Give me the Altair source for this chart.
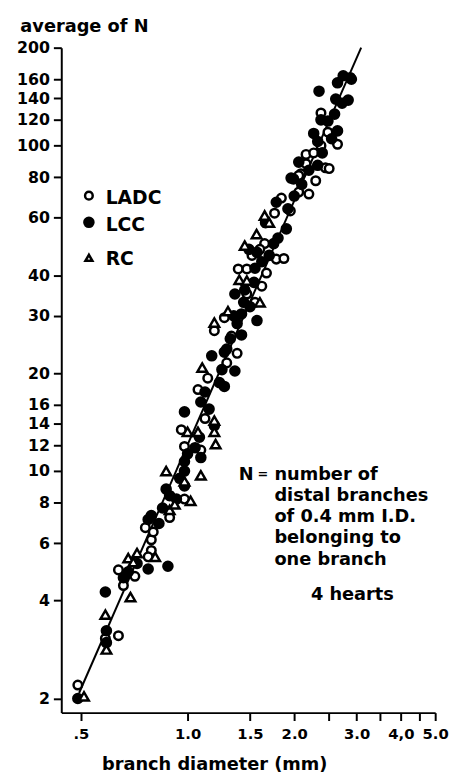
import altair as alt
import pandas as pd

# ---- data (branch diameter mm, average N) ----
ladc_x = [0.49, 0.586, 0.638, 0.638, 0.659, 0.71, 0.76, 0.79, 0.79, 0.774, 0.89, 0.98,
          0.98, 0.96, 1.09, 1.07, 1.14, 1.29, 1.38, 1.19, 1.27, 1.47, 1.39, 1.47, 1.67,
          1.62, 1.65, 1.78, 1.87, 1.76, 1.84, 2.06, 2.2, 2.09, 2.06, 2.16, 2.16, 2.27,
          2.45, 2.51, 2.38, 2.65, 2.49, 2.38, 2.88, 1.52, 1.55, 1.33, 1.6, 1.95, 2.3,
          1.12, 0.8]
ladc_y = [2.2, 3.06, 3.12, 4.97, 4.45, 4.75, 6.7, 6.15, 5.7, 5.45, 7.2, 8.2,
          11.9, 13.4, 11.6, 17.8, 19.3, 21.5, 23.0, 27.0, 29.6, 35.0, 41.8, 41.8, 40.6,
          37.0, 50.0, 44.8, 45.0, 62.0, 69.0, 72.0, 71.0, 82.0, 81.0, 94.0, 88.0, 95.0,
          85.5, 85.0, 100.0, 101.0, 110.0, 126.0, 162.0, 46.0, 33.0, 26.0, 48.0, 63.0, 78.0,
          14.5, 6.5]

lcc_x = [0.49, 0.586, 0.59, 0.59, 0.659, 0.68, 0.774, 0.79, 0.774, 0.88, 0.87, 0.89,
         0.85, 0.98, 0.98, 0.98, 1.0, 0.98, 1.08, 1.09, 1.09, 1.19, 1.17, 1.23, 1.27,
         1.29, 1.36, 1.27, 1.42, 1.38, 1.57, 1.42, 1.5, 1.44, 1.36, 1.54, 1.49, 1.57,
         1.7, 1.9, 1.8, 1.96, 1.99, 2.06, 2.33, 2.33, 2.27, 2.65, 2.38, 2.49, 2.35,
         2.62, 2.84, 2.73, 2.65, 2.75, 1.78, 1.92, 1.66, 1.12, 1.15, 1.25, 1.32, 1.35,
         1.45, 1.55, 1.62, 1.75, 2.0, 2.1, 2.2, 2.4, 2.55, 2.6, 0.95, 0.93, 0.72, 0.83,
         1.05, 2.9]
lcc_y = [2.0, 4.25, 3.23, 2.97, 4.7, 4.9, 5.0, 7.3, 7.1, 5.1, 8.8, 8.4,
         7.7, 9.0, 10.0, 10.7, 11.3, 15.2, 12.7, 11.0, 16.3, 13.8, 22.6, 18.7, 23.2,
         23.7, 20.3, 18.2, 26.2, 28.4, 29.0, 30.4, 32.0, 33.0, 35.0, 38.0, 48.0, 47.0,
         46.0, 55.5, 52.0, 79.5, 79.0, 89.0, 87.0, 103.0, 109.0, 111.0, 120.0, 119.0, 147.0,
         139.0, 138.0, 135.0, 156.0, 164.0, 67.0, 64.0, 58.0, 17.5, 15.5, 20.5, 25.5, 30.0,
         36.0, 42.0, 44.0, 50.0, 70.0, 76.0, 84.0, 95.0, 105.0, 125.0, 9.5, 8.2, 5.2, 6.9,
         11.8, 160.0]

rc_x = [0.51, 0.586, 0.59, 0.68, 0.703, 0.69, 0.81, 0.87, 0.89, 0.92, 1.02, 1.09,
        1.0, 1.07, 1.19, 1.19, 1.2, 1.1, 1.19, 1.4, 1.47, 1.6, 1.45, 1.566, 1.65, 0.98,
        0.72, 1.3, 1.7]
rc_y = [2.03, 3.62, 2.83, 5.4, 5.25, 4.1, 5.45, 10.0, 7.6, 7.9, 8.1, 9.7,
        13.2, 13.2, 14.3, 13.2, 12.1, 20.8, 28.6, 38.7, 38.5, 33.0, 49.3, 53.5, 61.0, 9.3,
        5.6, 31.0, 58.0]

fit_x = [0.494, 3.09]
fit_y = [2.08, 200.0]

y_ticks = [2, 4, 6, 8, 10, 12, 14, 16, 20, 30, 40, 60, 80, 100, 120, 140, 160, 200]
x_ticks = [0.5, 1.0, 1.5, 2.0, 2.5, 3.0, 3.5, 4.0, 4.5, 5.0]
x_tick_labels = {0.5: ".5", 1.0: "1.0", 1.5: "1.5", 2.0: "2.0", 3.0: "3.0", 4.0: "4,0", 5.0: "5.0"}

series = ["LADC", "LCC", "RC"]
series_shape = ["circle", "circle", "triangle-up"]
series_fill = ["white", "black", "white"]
series_size = [75, 95, 55]

FONT = "DejaVu Sans"

pts = pd.concat([
    pd.DataFrame({"d": ladc_x, "N": ladc_y, "s": "LADC"}),
    pd.DataFrame({"d": lcc_x, "N": lcc_y, "s": "LCC"}),
    pd.DataFrame({"d": rc_x, "N": rc_y, "s": "RC"}),
], ignore_index=True)
fit = pd.DataFrame({"d": fit_x, "N": fit_y})

label_expr = " : ".join(
    [f"datum.value == {k} ? '{v}'" for k, v in x_tick_labels.items()]) + " : ''"

xscale = alt.Scale(type="log", domain=[0.44, 5.0], nice=False)
yscale = alt.Scale(type="log", domain=[1.81, 200], nice=False)

xaxis = alt.Axis(values=x_ticks, labelExpr=label_expr, grid=False, title="branch  diameter (mm)",
                 tickSize=8, tickWidth=2, domainWidth=2, domainColor="black", tickColor="black",
                 labelFont=FONT, labelFontSize=15, labelFontWeight="bold", labelColor="black",
                 labelPadding=6, labelOverlap=False, labelFlush=False,
                 titleFont=FONT, titleFontSize=18, titleFontWeight="bold", titleColor="black",
                 titleX=155, titleY=58, titleAlign="center", titleBaseline="alphabetic")
yaxis = alt.Axis(values=y_ticks, format=".0f", grid=False, title="average of N",
                 tickSize=8, tickWidth=2, domainWidth=2, domainColor="black", tickColor="black",
                 labelFont=FONT, labelFontSize=16, labelFontWeight="bold", labelColor="black",
                 labelPadding=4, labelOverlap=False, labelFlush=False,
                 titleFont=FONT, titleFontSize=18, titleFontWeight="bold", titleColor="black",
                 titleAngle=0, titleX=-42, titleY=-16, titleAlign="left", titleBaseline="alphabetic")

line = alt.Chart(fit).mark_line(color="black", strokeWidth=2, clip=False).encode(
    x=alt.X("d:Q", scale=xscale, axis=xaxis),
    y=alt.Y("N:Q", scale=yscale, axis=yaxis),
)

points = alt.Chart(pts).mark_point(filled=True, stroke="black", strokeWidth=2.5, opacity=1).encode(
    x=alt.X("d:Q", scale=xscale),
    y=alt.Y("N:Q", scale=yscale),
    shape=alt.Shape("s:N", scale=alt.Scale(domain=series, range=series_shape), legend=None),
    fill=alt.Fill("s:N", scale=alt.Scale(domain=series, range=series_fill), legend=None),
    size=alt.Size("s:N", scale=alt.Scale(domain=series, range=series_size), legend=None),
)

# ---- key (symbol + label per series), placed in the upper-left of the plot ----
key_sym_y = [150, 177, 213]
key_txt_y = [158, 186, 220]
key_layers = []
for name, shp, fil, sz, sy, ty in zip(series, series_shape, series_fill, [60, 85, 50],
                                       key_sym_y, key_txt_y):
    key_layers.append(
        alt.Chart(pd.DataFrame({"s": [name]})).mark_point(
            shape=shp, fill=fil, filled=True, stroke="black", strokeWidth=2.5, size=sz, opacity=1
        ).encode(x=alt.value(28), y=alt.value(sy))
    )
    key_layers.append(
        alt.Chart(pd.DataFrame({"s": [name]})).mark_text(
            font=FONT, fontSize=19, fontWeight="bold", align="left", baseline="alphabetic",
            color="black"
        ).encode(x=alt.value(45), y=alt.value(ty), text="s:N")
    )

txt_n = alt.Chart(pd.DataFrame({"t": ["N"]})).mark_text(
    font=FONT, fontSize=18, fontWeight="bold", align="left", baseline="alphabetic", color="black"
).encode(x=alt.value(180), y=alt.value(438), text="t:N")
txt_eq = alt.Chart(pd.DataFrame({"t": ["="]})).mark_text(
    font=FONT, fontSize=13, fontWeight="bold", align="left", baseline="alphabetic", color="black"
).encode(x=alt.value(199), y=alt.value(436), text="t:N")
txt_block = alt.Chart(pd.DataFrame({"t": ["number of\ndistal branches\nof 0.4 mm I.D.\nbelonging to\none branch"]})).mark_text(
    font=FONT, fontSize=18, fontWeight="bold", align="left", baseline="alphabetic", color="black",
    lineBreak="\n", lineHeight=21.5
).encode(x=alt.value(216), y=alt.value(438), text="t:N")
txt_h = alt.Chart(pd.DataFrame({"t": ["4  hearts"]})).mark_text(
    font=FONT, fontSize=18, fontWeight="bold", align="left", baseline="alphabetic", color="black"
).encode(x=alt.value(253), y=alt.value(560), text="t:N")

chart = alt.layer(line, points, *key_layers, txt_n, txt_eq, txt_block, txt_h).properties(
    width=379, height=674,
    autosize=alt.AutoSizeParams(type="none"),
    padding={"left": 54, "top": 35, "right": 14, "bottom": 58},
).configure_view(stroke=None)

chart.save("out.html", embed_options={"renderer": "svg", "actions": False})
